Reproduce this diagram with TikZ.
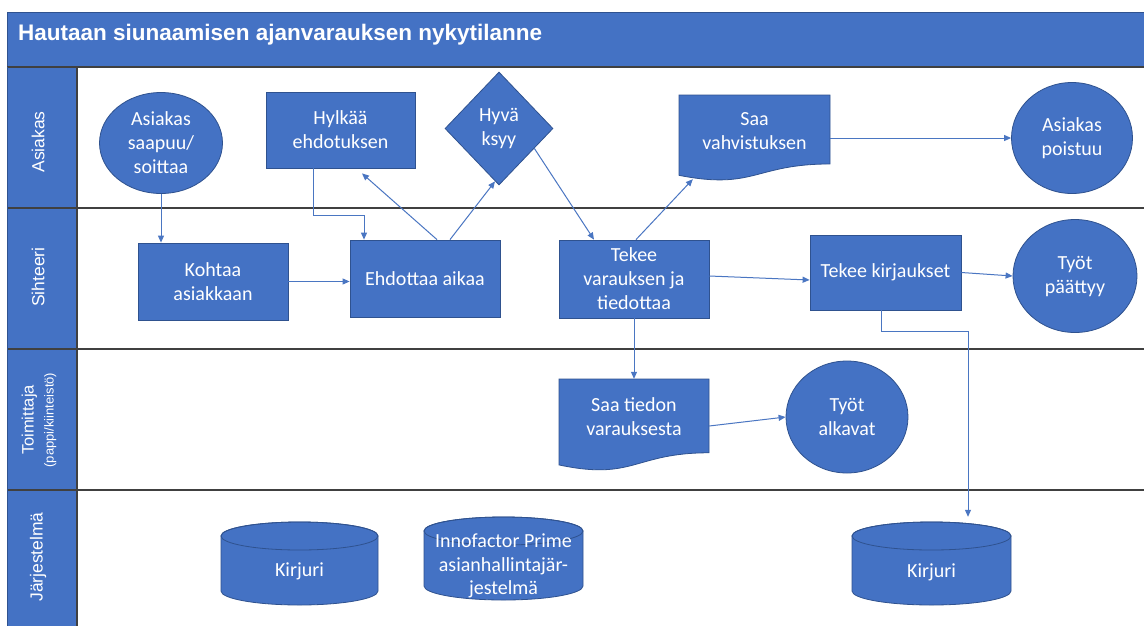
\documentclass[tikz,border=0pt]{standalone}
\usepackage{fontspec}
\setmainfont{Carlito}
\newfontfamily\arialf{Liberation Sans}
\usetikzlibrary{arrows.meta,shapes.geometric,calc}
\definecolor{obl}{HTML}{4472C4}
\definecolor{odk}{HTML}{2F528F}
\definecolor{lanel}{HTML}{404040}
\definecolor{conc}{HTML}{4A76C2}
\newcommand\docpath[4]{\filldraw[shp] (#1,#2) -- ({#1+#3},#2) -- ({#1+#3},{#2+0.802*#4}) .. controls ({#1+0.5*#3},{#2+0.802*#4}) and ({#1+0.5*#3},{#2+1.107*#4}) .. (#1,{#2+0.934*#4}) -- cycle;}
\newcommand\cylpath[5]{\filldraw[shp] (#1,{#2+#5}) -- (#1,{#2+#4-#5}) arc[start angle=180,end angle=0,x radius={#3/2},y radius=#5] -- ({#1+#3},{#2+#5}) arc[start angle=0,end angle=-180,x radius={#3/2},y radius=#5] -- cycle;
\draw[draw=odk,line width=0.8pt] ({#1+#3/2},{#2+#5}) ellipse[x radius={#3/2},y radius=#5];}
\begin{document}
\begin{tikzpicture}[x=1pt,y=-1pt,
 shp/.style={fill=obl,draw=odk,line width=0.8pt},
 shapetext/.style={text=white,align=center,inner sep=0pt,font=\fontsize{20}{24}\selectfont},
 box/.style={shp,shapetext,rectangle},
 oval/.style={shp,shapetext,ellipse},
 rhomb/.style={shp,shapetext,diamond},
 txt/.style={shapetext,rectangle},
 conn/.style={draw=conc,line width=1pt,-{Triangle[length=7pt,width=6pt]}},
 lane/.style={draw=lanel,line width=1.2pt},
 lanelab/.style={text=white,font=\arialf\fontsize{17.5}{20}\selectfont,rotate=90,align=center,inner sep=0pt}
]
\fill[white] (0,0) rectangle (1144,625);
\useasboundingbox (0,0) rectangle (1144,625);
% title bar and lane column
\filldraw[fill=obl,draw=odk,line width=0.8pt] (7,12) rectangle (1146,67);
\fill[obl] (7,67) rectangle (77,627);
\draw[lane] (7,67) -- (1146,67);
\draw[lane] (7,208) -- (1146,208);
\draw[lane] (7,349) -- (1146,349);
\draw[lane] (7,490) -- (1146,490);
\draw[lane] (77,67) -- (77,627);
\draw[draw=odk,line width=0.8pt] (7,67) -- (7,627);
\node[anchor=base west,inner sep=0pt,text=white,font=\arialf\bfseries\fontsize{22.5}{26}\selectfont] (title) at (18,40) {Hautaan siunaamisen ajanvarauksen nykytilanne};
\node[lanelab] (lA) at (38,142) {Asiakas};
\node[lanelab] (lS) at (38,277) {Sihteeri};
\node[lanelab] (lT) at (39,420) {\fontsize{16.5}{18.5}\selectfont Toimittaja\\\fontsize{13}{16}\selectfont (pappi/kiinteistö)};
\node[lanelab] (lJ) at (38,557) {Järjestelmä};
% shapes
\node[oval,minimum width=123pt,minimum height=101pt] (sa) at (161,143) {Asiakas\\saapuu/\\soittaa};
\node[box,minimum width=149pt,minimum height=76pt] (hy) at (340.5,130) {Hylkää\\ehdotuksen};
\node[rhomb,minimum width=108pt,minimum height=113pt] (hk) at (499,128.5) {Hyvä\\ksyy};
\docpath{679}{95}{151}{86}
\node[txt,minimum width=151pt,minimum height=72pt] (sv) at (754.5,131) {Saa\\vahvistuksen};
\node[oval,minimum width=121pt,minimum height=111pt] (po) at (1072,138) {Asiakas\\poistuu};
\node[box,minimum width=150pt,minimum height=77pt] (ko) at (213,281.5) {Kohtaa\\asiakkaan};
\node[box,minimum width=150pt,minimum height=77pt] (eh) at (425,278.5) {Ehdottaa aikaa};
\node[box,minimum width=150pt,minimum height=78pt] (tv) at (634,279) {Tekee\\varauksen ja\\tiedottaa};
\node[box,minimum width=151pt,minimum height=75pt] (tk) at (885.5,272.5) {Tekee kirjaukset};
\node[oval,minimum width=124pt,minimum height=113pt] (tp) at (1075,276) {Työt\\päättyy};
\docpath{559}{379}{150}{92}
\node[txt,minimum width=150pt,minimum height=76pt] (st) at (634,417) {Saa tiedon\\varauksesta};
\node[oval,minimum width=122pt,minimum height=112pt] (ta) at (847,417) {Työt\\alkavat};
\cylpath{221}{522}{157}{83}{14}
\node[txt] (k1) at (299.5,571) {Kirjuri};
\cylpath{424}{517}{159}{83}{14}
\node[txt,font=\fontsize{20}{23.5}\selectfont] (k2) at (503.5,566) {Innofactor Prime\\asianhallintajär-\\jestelmä};
\cylpath{852}{522}{159}{83}{14}
\node[txt,minimum width=159pt,minimum height=65pt] (k3) at (931.5,572.5) {Kirjuri};
% connectors
\draw[conn] (sa.south) -- (sa.south |- ko.north);
\draw[conn] (ko.east) -- (ko.east -| eh.west);
\draw[conn] ($(hy.south)+(-27.5,0)$) -- ++(0,47) -| ($(eh.north)+(-61,0)$);
\draw[conn] ($(eh.north)+(12,0)$) -- ($(hy.south)+(21.5,5)$);
\draw[conn] ($(eh.north)+(25,0)$) -- ($(hk.south)+(-4,-4)$);
\draw[conn] ($(hk.east)!0.35!(hk.south)$) -- ($(tv.north)+(-40,0)$);
\draw[conn] ($(tv.north)+(2,0)$) -- ($(sv.south west)+(14,12)$);
\draw[conn] (sv.east |- po.west) -- (po.west);
\draw[conn] ($(tv.east)+(0,-3)$) -- ($(tk.west)+(0,7.5)$);
\draw[conn] (tk.east) -- (tp.west);
\draw[conn] (tv.south) -- (st.north);
\draw[conn] ($(st.east)+(0,9)$) -- (ta.west);
\draw[conn] ($(tk.south)+(-4.5,0)$) -- ++(0,21) -| ($(k3.north)+(36.5,-23)$);
\end{tikzpicture}
\end{document}
